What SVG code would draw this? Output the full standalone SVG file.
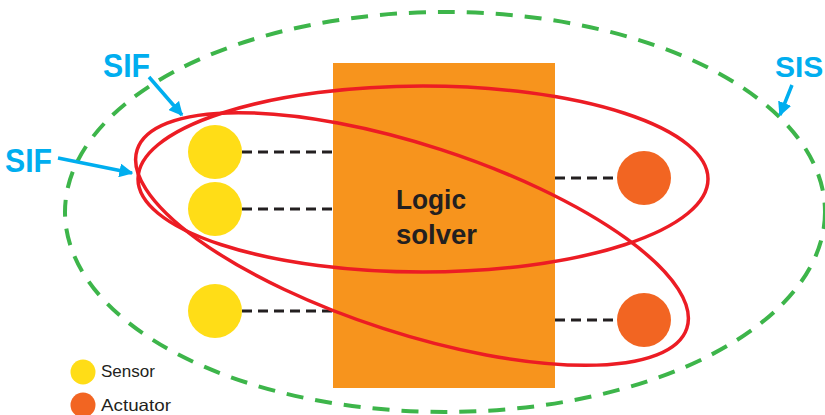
<svg xmlns="http://www.w3.org/2000/svg" width="825" height="415" viewBox="0 0 825 415">
<defs>
<style>
.sis{fill:none;stroke:#3db54a;stroke-width:4;stroke-dasharray:17 12}
.sif{fill:none;stroke:#ec1c24;stroke-width:3.5}
.wire{stroke:#231f20;stroke-width:3;stroke-dasharray:10 6}
.sensor{fill:#ffdd17}
.act{fill:#f26522}
.lbl{font-family:"Liberation Sans",Arial,sans-serif;font-weight:bold;fill:#00aeef;font-size:33px}
.ptr{stroke:#00aeef;stroke-width:3.5;fill:none}
.leg{font-family:"Liberation Sans",Arial,sans-serif;font-size:16.5px;fill:#231f20}
.ls{font-family:"Liberation Sans",Arial,sans-serif;font-weight:bold;font-size:27px;fill:#231f20}
</style>
<marker id="ah" viewBox="0 0 10 10" refX="9" refY="5" markerWidth="4" markerHeight="4" orient="auto" markerUnits="strokeWidth">
<path d="M0,0 L10,5 L0,10 Z" fill="#00aeef"/>
</marker>
</defs>
<rect width="825" height="415" fill="#fff"/>
<g id="logic-solver">
<rect x="333" y="63" width="222" height="325" fill="#f7941d"/>
<text class="ls" x="396" y="209" textLength="70" lengthAdjust="spacingAndGlyphs">Logic</text>
<text class="ls" x="396" y="244" textLength="81" lengthAdjust="spacingAndGlyphs">solver</text>
</g>
<g id="connectors">
<line class="wire" x1="242" y1="152" x2="333" y2="152"/>
<line class="wire" x1="242" y1="209" x2="333" y2="209"/>
<line class="wire" x1="242" y1="311" x2="333" y2="311"/>
<line class="wire" x1="555" y1="178" x2="617" y2="178"/>
<line class="wire" x1="555" y1="320" x2="617" y2="320"/>
</g>
<g id="sensor1"><circle class="sensor" cx="215" cy="152" r="27"/></g>
<g id="sensor2"><circle class="sensor" cx="215" cy="209" r="27"/></g>
<g id="sensor3"><circle class="sensor" cx="215" cy="311" r="27"/></g>
<g id="actuator1"><circle class="act" cx="644" cy="178" r="27"/></g>
<g id="actuator2"><circle class="act" cx="644" cy="320" r="27"/></g>
<g id="sis"><ellipse class="sis" cx="445" cy="212" rx="380" ry="200"/></g>
<g id="sif1"><ellipse class="sif" cx="423" cy="179" rx="285" ry="93"/></g>
<g id="sif2"><ellipse class="sif" cx="412" cy="239" rx="289" ry="94" transform="rotate(18 412 239)"/></g>
<g id="labels">
<text class="lbl" x="103" y="77" textLength="47" lengthAdjust="spacingAndGlyphs">SIF</text>
<text class="lbl" x="5" y="172" textLength="47" lengthAdjust="spacingAndGlyphs">SIF</text>
<text class="lbl" x="775" y="77" style="font-size:30px">SIS</text>
<line class="ptr" x1="149" y1="77" x2="182" y2="115" marker-end="url(#ah)"/>
<line class="ptr" x1="58" y1="158" x2="132" y2="173" marker-end="url(#ah)"/>
<line class="ptr" x1="792" y1="85" x2="780" y2="115" marker-end="url(#ah)"/>
</g>
<g id="legend">
<circle class="sensor" cx="83" cy="372" r="12.5"/>
<text class="leg" x="101" y="377" textLength="54" lengthAdjust="spacingAndGlyphs">Sensor</text>
<circle class="act" cx="83" cy="405" r="12.5"/>
<text class="leg" x="101" y="411" textLength="70" lengthAdjust="spacingAndGlyphs">Actuator</text>
</g>
</svg>
